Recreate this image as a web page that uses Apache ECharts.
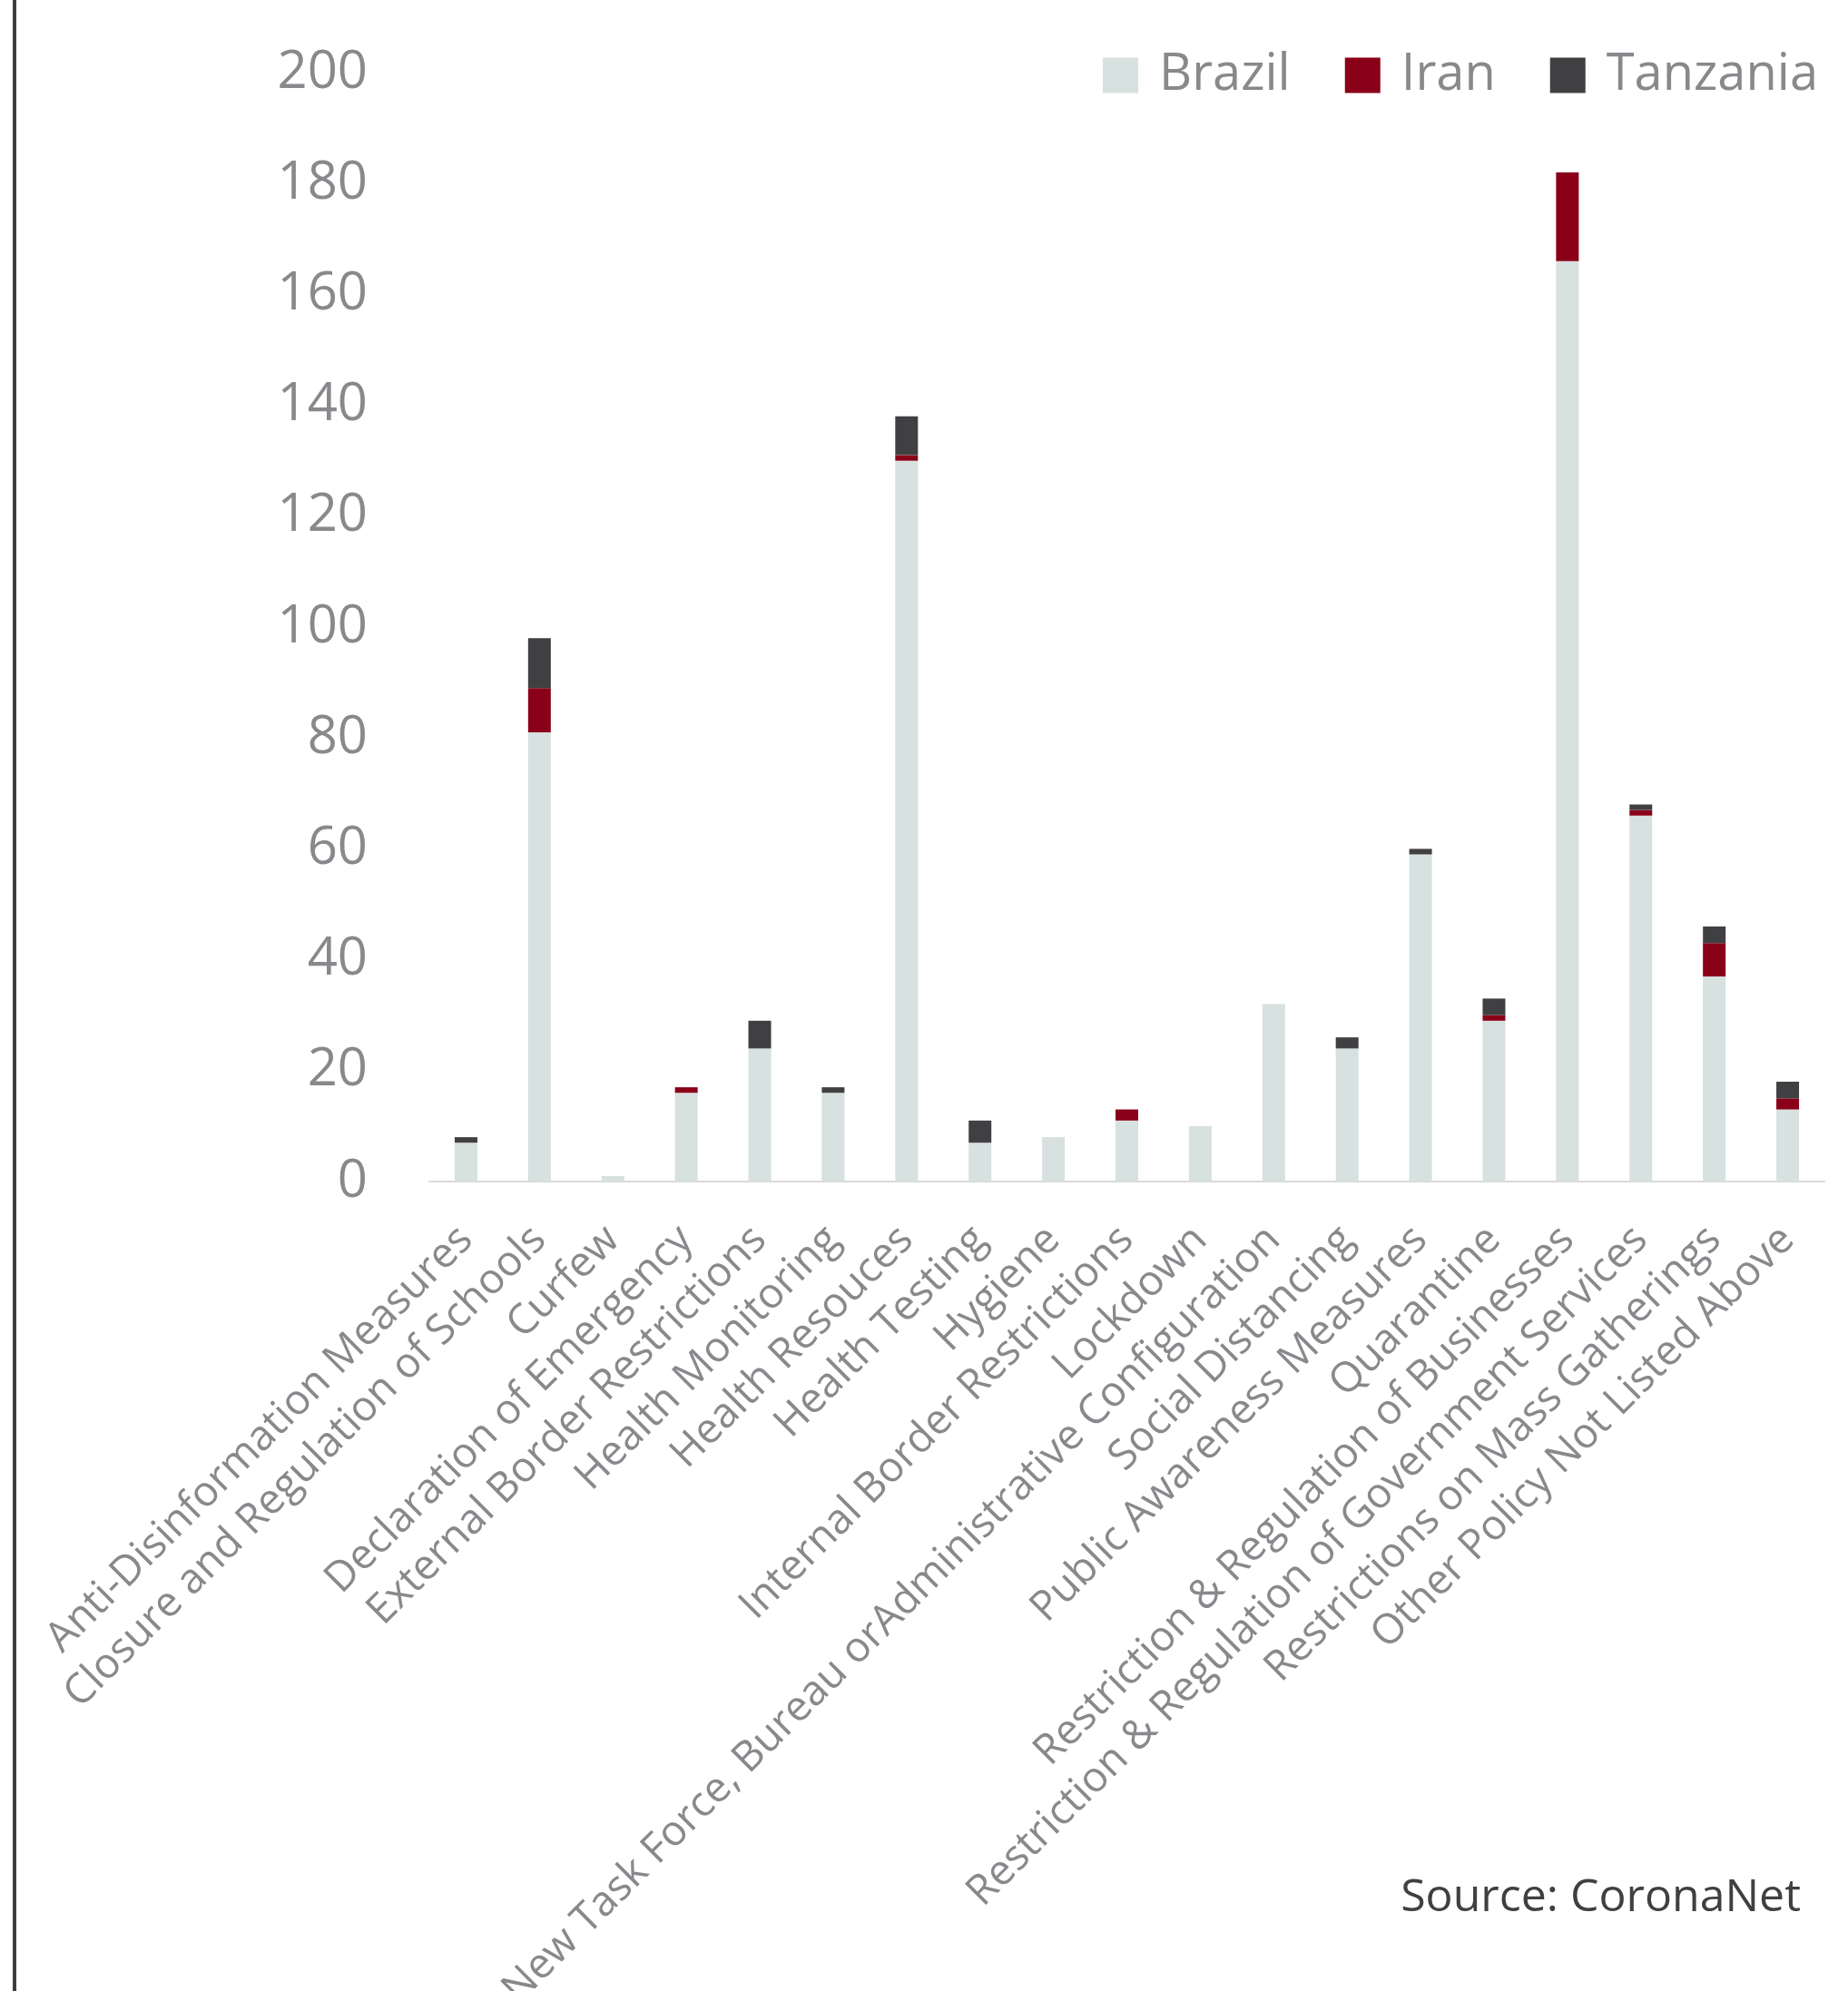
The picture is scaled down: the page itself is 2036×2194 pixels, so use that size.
<!DOCTYPE html>
<html>
<head>
<meta charset="utf-8">
<title>Policy measures by category</title>
<script src="https://cdn.jsdelivr.net/npm/echarts@6/dist/echarts.min.js"></script>
<style>
  html, body { margin: 0; padding: 0; background: #ffffff; }
  #chart { width: 2036px; height: 2194px; }
</style>
</head>
<body>
<div id="chart"></div>
<script>
// Policy categories (as recorded in the source data)
const categories = [
  'Anti-Disinformation Measures',
  'Closure and Regulation of Schools',
  'Curfew',
  'Declaration of Emergency',
  'External Border Restrictions',
  'Health Monitoring',
  'Health Resouces',
  'Health Testing',
  'Hygiene',
  'Internal Border Restrictions',
  'Lockdown',
  'New Task Force, Bureau orAdministrative Configuration',
  'Social Distancing',
  'Public Awareness Measures',
  'Quarantine',
  'Restriction & Regulation of Businesses',
  'Restriction & Regulation of Government Services',
  'Restrictions on Mass Gatherings',
  'Other Policy Not Listed Above'
];

// Number of policies per country and category
const brazil   = [7, 81, 1, 16, 24, 16, 130, 7, 8, 11, 10, 32, 24, 59, 29, 166, 66, 37, 13];
const iran     = [0,  8, 0,  1,  0,  0,   1, 0, 0,  2,  0,  0,  0,  0,  1,  16,  1,  6,  2];
const tanzania = [1,  9, 0,  0,  5,  1,   7, 4, 0,  0,  0,  0,  2,  1,  3,   0,  1,  3,  3];

const yTicks = { min: 0, max: 200, interval: 20 };

const FONT = '"Open Sans", "Noto Sans", sans-serif';
const GREY_TEXT = '#89888c';

const chart = echarts.init(document.getElementById('chart'), null, { renderer: 'canvas' });

function barSeries(name, values, color) {
  return {
    name: name,
    type: 'bar',
    stack: 'total',
    data: values,
    barWidth: 25,
    itemStyle: { color: color },
    emphasis: { disabled: true }
  };
}

chart.setOption({
  animation: false,
  backgroundColor: '#ffffff',
  textStyle: { fontFamily: FONT },
  grid: {
    left: 473, right: 26, top: 80, bottom: 892,
    containLabel: false,
    outerBoundsMode: 'none'
  },
  legend: {
    right: 28,
    top: 50,
    itemWidth: 39,
    itemHeight: 39,
    itemGap: 60,
    icon: 'rect',
    textStyle: {
      color: GREY_TEXT, fontSize: 56, fontFamily: FONT,
      lineHeight: 39, padding: [0, 0, 0, 18]
    },
    data: ['Brazil', 'Iran', 'Tanzania']
  },
  xAxis: {
    type: 'category',
    data: categories,
    axisLine: { show: true, lineStyle: { color: '#d9d9d9', width: 2 } },
    axisTick: { show: false },
    axisLabel: {
      interval: 0,
      rotate: 45,
      margin: 57,
      color: GREY_TEXT,
      fontSize: 46,
      fontFamily: FONT
    }
  },
  yAxis: {
    type: 'value',
    min: yTicks.min,
    max: yTicks.max,
    interval: yTicks.interval,
    splitLine: { show: false },
    axisLine: { show: false },
    axisTick: { show: false },
    axisLabel: { color: GREY_TEXT, fontSize: 58, fontFamily: FONT, margin: 68 }
  },
  series: [
    barSeries('Brazil', brazil, '#d7e1df'),
    barSeries('Iran', iran, '#8a0018'),
    barSeries('Tanzania', tanzania, '#404042')
  ],
  graphic: [
    {
      type: 'rect',
      left: 14,
      top: 0,
      shape: { width: 4, height: 2194 },
      style: { fill: '#3f3f3f' }
    },
    {
      type: 'text',
      right: 52,
      top: 2067,
      style: {
        text: 'Source: CoronaNet',
        fill: '#404040',
        fontSize: 50,
        fontFamily: FONT
      }
    }
  ]
});
</script>
</body>
</html>
